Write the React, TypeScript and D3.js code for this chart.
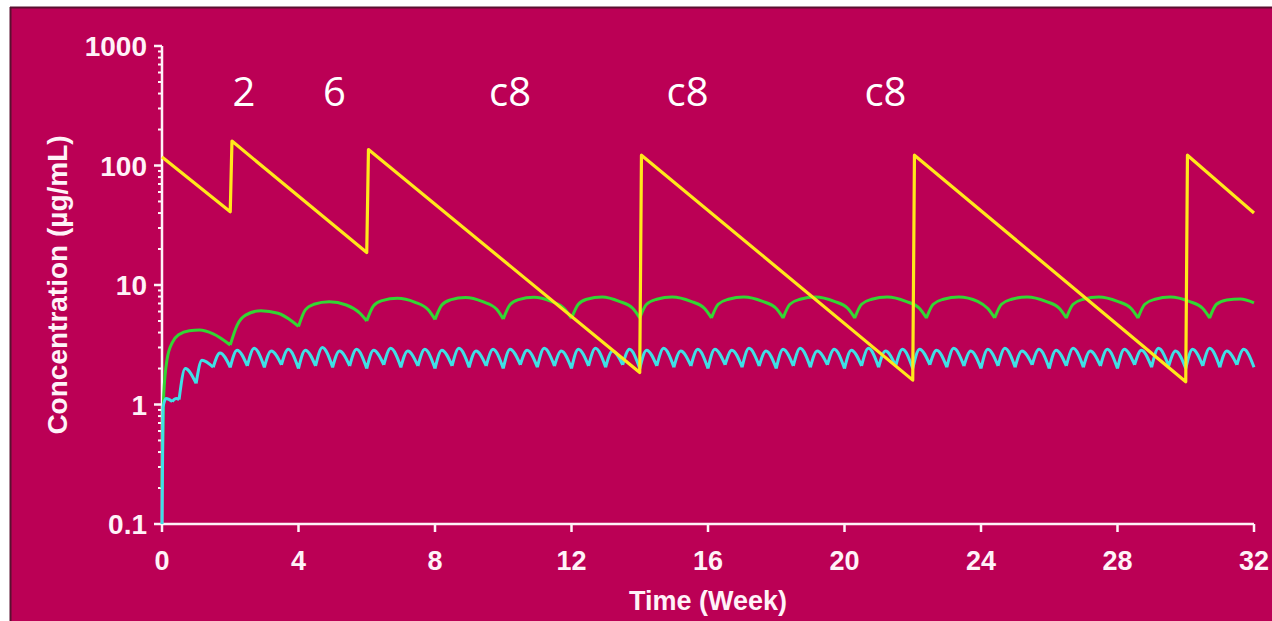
import React from 'react';
import * as d3 from 'd3';

// yellow: loading doses at 0, 2, 6 then every 8 weeks
const yellowPoints: [number, number][] = [
  [0, 118], [2.0, 41], [2.05, 160], [6.0, 18.7], [6.05, 136],
  [14.0, 1.85], [14.05, 122], [22.0, 1.6], [22.05, 122],
  [30.0, 1.55], [30.05, 122], [32.0, 40],
];

// green: roughly every 2 weeks
const greenPoints: [number, number][] = [
  [0, 0.2], [0.05, 1.2], [0.15, 2.4], [0.3, 3.3], [0.5, 3.85], [0.8, 4.15], [1.1, 4.2], [1.5, 3.9], [2.0, 3.15],
  [2.2, 4.6], [2.45, 5.6], [2.9, 6.1], [3.4, 5.8], [3.8, 5.0], [4.0, 4.5],
  [4.2, 6.2], [4.45, 6.9], [4.9, 7.25], [5.4, 6.8], [5.8, 5.8], [6.0, 5.0],
  [6.2, 6.7], [6.45, 7.4], [6.9, 7.75], [7.4, 7.2], [7.8, 6.2], [8.0, 5.15],
  [8.2, 6.8], [8.45, 7.5], [8.9, 7.85], [9.4, 7.25], [9.8, 6.3], [10.0, 5.2],
  [10.2, 6.85], [10.45, 7.55], [10.9, 7.9], [11.4, 7.3], [11.8, 6.3], [12.0, 5.25],
  [12.2, 6.9], [12.45, 7.6], [12.9, 7.95], [13.4, 7.3], [13.8, 6.35], [14.0, 5.3],
  [14.2, 6.9], [14.5, 7.6], [14.95, 7.95], [15.5, 7.3], [15.9, 6.35], [16.1, 5.3],
  [16.3, 6.9], [16.6, 7.6], [17.05, 7.95], [17.6, 7.3], [18.0, 6.35], [18.2, 5.3],
  [18.4, 6.9], [18.7, 7.6], [19.15, 7.95], [19.7, 7.3], [20.1, 6.35], [20.3, 5.3],
  [20.5, 6.9], [20.8, 7.6], [21.25, 7.95], [21.8, 7.3], [22.2, 6.35], [22.4, 5.3],
  [22.6, 6.9], [22.9, 7.6], [23.35, 7.95], [23.9, 7.3], [24.2, 6.35], [24.4, 5.3],
  [24.6, 6.9], [24.9, 7.6], [25.35, 7.95], [25.9, 7.3], [26.3, 6.35], [26.5, 5.3],
  [26.7, 6.9], [27.0, 7.6], [27.45, 7.95], [28.0, 7.3], [28.4, 6.35], [28.6, 5.3],
  [28.8, 6.9], [29.1, 7.6], [29.55, 7.95], [30.1, 7.3], [30.5, 6.35], [30.7, 5.3],
  [30.9, 6.9], [31.2, 7.5], [31.6, 7.65], [32.0, 7.1],
];

// cyan: twice weekly
const cyanPoints: [number, number][] = [
  [0, 0.1], [0.03, 0.95], [0.12, 1.12], [0.3, 1.06], [0.42, 1.12], [0.5, 1.1],
  [0.68, 2.0], [1.0, 1.5], [1.17, 2.35], [1.5, 2.05], [1.7, 2.7], [2.0, 2.05],
  [2.2, 2.85], [2.5, 2.1], [2.7, 2.95], [3.0, 2.05], [3.2, 2.8], [3.5, 2.15],
  [3.7, 2.9], [4.0, 2.0], [4.2, 2.85], [4.5, 2.1], [4.7, 3.0], [5.0, 2.05],
  [5.2, 2.8], [5.5, 2.1], [5.7, 2.9], [6.0, 2.0], [6.2, 2.85], [6.5, 2.15],
  [6.7, 2.95], [7.0, 2.05], [7.2, 2.8], [7.5, 2.1], [7.7, 2.9], [8.0, 2.0],
  [8.2, 2.85], [8.5, 2.1], [8.7, 2.95], [9.0, 2.05], [9.2, 2.8], [9.5, 2.1],
  [9.7, 2.9], [10.0, 2.0], [10.2, 2.9], [10.5, 2.15], [10.7, 2.85], [11.0, 2.05],
  [11.2, 2.95], [11.5, 2.1], [11.7, 2.8], [12.0, 2.0], [12.2, 2.9], [12.5, 2.1],
  [12.7, 2.95], [13.0, 2.05], [13.2, 2.8], [13.5, 2.15], [13.7, 2.9], [14.0, 2.0],
  [14.2, 2.85], [14.5, 2.1], [14.7, 2.95], [15.0, 2.05], [15.2, 2.8], [15.5, 2.1],
  [15.7, 2.9], [16.0, 2.0], [16.2, 2.9], [16.5, 2.15], [16.7, 2.85], [17.0, 2.05],
  [17.2, 2.95], [17.5, 2.1], [17.7, 2.8], [18.0, 2.0], [18.2, 2.9], [18.5, 2.1],
  [18.7, 2.95], [19.0, 2.05], [19.2, 2.8], [19.5, 2.15], [19.7, 2.9], [20.0, 2.0],
  [20.2, 2.85], [20.5, 2.1], [20.7, 2.95], [21.0, 2.05], [21.2, 2.8], [21.5, 2.1],
  [21.7, 2.9], [22.0, 2.0], [22.2, 2.9], [22.5, 2.15], [22.7, 2.85], [23.0, 2.05],
  [23.2, 2.95], [23.5, 2.1], [23.7, 2.8], [24.0, 2.0], [24.2, 2.9], [24.5, 2.1],
  [24.7, 2.95], [25.0, 2.05], [25.2, 2.8], [25.5, 2.15], [25.7, 2.9], [26.0, 2.0],
  [26.2, 2.85], [26.5, 2.1], [26.7, 2.95], [27.0, 2.05], [27.2, 2.8], [27.5, 2.1],
  [27.7, 2.9], [28.0, 2.0], [28.2, 2.9], [28.5, 2.15], [28.7, 2.85], [29.0, 2.05],
  [29.2, 2.95], [29.5, 2.1], [29.7, 2.8], [30.0, 2.0], [30.2, 2.9], [30.5, 2.1],
  [30.7, 2.95], [31.0, 2.05], [31.2, 2.8], [31.5, 2.15], [31.7, 2.9], [32.0, 2.05],
];

const xTicks = [0, 4, 8, 12, 16, 20, 24, 28, 32];
const yTicks = [0.1, 1, 10, 100, 1000];
const yTickLabels = ['0.1', '1', '10', '100', '1000'];

const annotations = [
  { week: 2.4, text: '2' },
  { week: 5.05, text: '6' },
  { week: 10.2, text: 'c8' },
  { week: 15.4, text: 'c8' },
  { week: 21.2, text: 'c8' },
];

const BG = '#bb0055';
const AXIS = '#fff2f8';
const FONT = '"Liberation Sans", Arial, sans-serif';

// break the path at each trough so the dose spikes stay sharp
function splitAtTroughs(pts: [number, number][]) {
  const segs: [number, number][][] = [];
  let cur: [number, number][] = [pts[0]];
  for (let i = 1; i < pts.length; i++) {
    cur.push(pts[i]);
    if (i < pts.length - 1 && pts[i][1] <= pts[i - 1][1] && pts[i][1] < pts[i + 1][1]) {
      segs.push(cur);
      cur = [pts[i]];
    }
  }
  segs.push(cur);
  return segs;
}

export default function App() {
  const x = d3.scaleLinear().domain([0, 32]).range([162, 1254]);
  const y = d3.scaleLog().domain([0.1, 1000]).range([524, 46]);

  const smooth = d3.line<[number, number]>()
    .x(d => x(d[0]))
    .y(d => y(d[1]))
    .curve(d3.curveMonotoneX);
  const straight = d3.line<[number, number]>()
    .x(d => x(d[0]))
    .y(d => y(d[1]));

  const greenPath = splitAtTroughs(greenPoints).map(s => smooth(s)).join('');
  const cyanPath = splitAtTroughs(cyanPoints).map(s => smooth(s)).join('');
  const yellowPath = straight(yellowPoints) || '';

  const minorTicks = y.ticks().filter(v => !yTicks.some(t => Math.abs(t - v) < 1e-9));

  return (
    <svg width={1272} height={621} style={{ position: 'absolute', left: 0, top: 0 }}>
      <rect width={1272} height={621} fill="#ffffff" />
      <rect x={10} y={7} width={1262} height={614} fill={BG} />
      <line x1={10} x2={1272} y1={7.5} y2={7.5} stroke="#5a1030" strokeWidth={2} />
      <line x1={10.5} x2={10.5} y1={7} y2={621} stroke="#5a1030" strokeWidth={2} />

      {/* y axis */}
      <line x1={x(0)} x2={x(0)} y1={y(1000)} y2={y(0.1)} stroke={AXIS} strokeWidth={2.5} />
      {yTicks.map(v => (
        <line key={'M' + v} x1={x(0) - 8} x2={x(0)} y1={y(v)} y2={y(v)} stroke={AXIS} strokeWidth={2.5} />
      ))}
      {minorTicks.map(v => (
        <line key={'m' + v} x1={x(0) - 4} x2={x(0)} y1={y(v)} y2={y(v)} stroke={AXIS} strokeWidth={2} />
      ))}
      {yTicks.map((v, i) => (
        <text key={'l' + v} x={147} y={y(v)} dy="0.36em" textAnchor="end" fill={AXIS}
          fontFamily={FONT} fontWeight="bold" fontSize={28}>{yTickLabels[i]}</text>
      ))}
      <text transform={`translate(57,${(y(1000) + y(0.1)) / 2}) rotate(-90)`} dy="0.36em" textAnchor="middle"
        fill={AXIS} fontFamily={FONT} fontWeight="bold" fontSize={28}>Concentration (µg/mL)</text>

      {/* x axis */}
      <line x1={x(0)} x2={x(32)} y1={y(0.1)} y2={y(0.1)} stroke={AXIS} strokeWidth={2.5} />
      {xTicks.map(v => (
        <line key={'x' + v} x1={x(v)} x2={x(v)} y1={y(0.1)} y2={y(0.1) + 8} stroke={AXIS} strokeWidth={2.5} />
      ))}
      {xTicks.map(v => (
        <text key={'xl' + v} x={x(v)} y={560} dy="0.36em" textAnchor="middle" fill={AXIS}
          fontFamily={FONT} fontWeight="bold" fontSize={27}>{v}</text>
      ))}
      <text x={(x(0) + x(32)) / 2} y={600} dy="0.36em" textAnchor="middle" fill={AXIS}
        fontFamily={FONT} fontWeight="bold" fontSize={27}>Time (Week)</text>

      {/* series */}
      <path d={greenPath} fill="none" stroke="#33d633" strokeWidth={3} strokeLinejoin="round" />
      <path d={cyanPath} fill="none" stroke="#3fe0e6" strokeWidth={3} strokeLinejoin="round" />
      <path d={yellowPath} fill="none" stroke="#ffe81a" strokeWidth={3.2} strokeLinejoin="round" />

      {annotations.map((a, i) => (
        <text key={'a' + i} x={x(a.week)} y={92} dy="0.36em" textAnchor="middle" fill="#ffffff"
          fontFamily='"Open Sans", sans-serif' fontSize={40}>{a.text}</text>
      ))}
    </svg>
  );
}
